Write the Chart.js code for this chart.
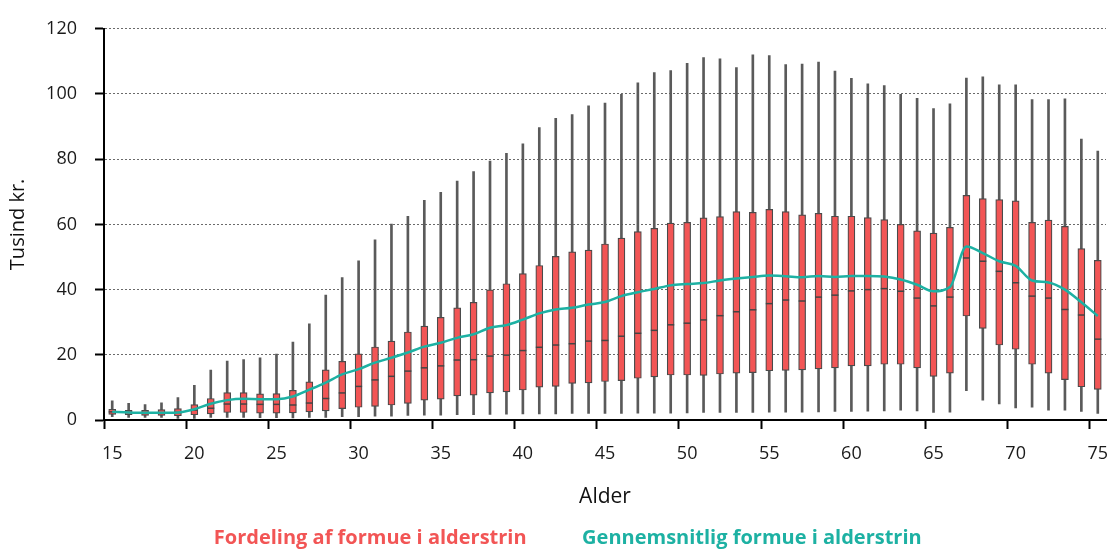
<!DOCTYPE html>
<html>
<head>
<meta charset="utf-8">
<script src="https://cdn.jsdelivr.net/npm/chart.js@4.4.1/dist/chart.umd.min.js"></script>
<style>
  html, body { margin: 0; padding: 0; background: #ffffff; }
  #wrap { width: 1110px; height: 549px; position: relative; }
</style>
</head>
<body>
<div id="wrap"><canvas id="c"></canvas></div>
<script>
// Ages (categories)
const ages = [15,16,17,18,19,20,21,22,23,24,25,26,27,28,29,30,31,32,33,34,35,36,37,38,39,40,
  41,42,43,44,45,46,47,48,49,50,51,52,53,54,55,56,57,58,59,60,61,62,63,64,65,66,67,68,69,70,
  71,72,73,74,75];

// Whisker maximum (tusind kr.)
const whiskerMax = [5.9,5.1,4.7,5.3,6.9,10.6,15.3,18.1,18.5,19.1,20.2,23.9,29.5,38.3,43.7,48.8,55.3,60.1,62.5,67.4,
  69.8,73.3,76.2,79.4,81.8,84.7,89.7,92.5,93.7,96.4,97.2,99.9,103.4,106.6,107.2,109.4,111.2,110.8,108.1,112.0,
  111.8,109.0,109.2,109.8,107.0,104.8,103.1,102.6,99.9,98.7,95.5,97.0,104.9,105.3,102.8,102.8,98.3,98.3,98.5,86.2,82.5];

// Upper quartile
const q3 = [3.3,2.95,2.95,3.2,3.5,4.7,6.6,8.4,8.4,8.0,8.1,9.1,11.7,15.4,18.0,20.3,22.4,24.2,27.0,28.8,
  31.5,34.4,36.1,39.9,41.8,44.9,47.4,50.2,51.6,52.1,54.0,55.8,57.8,58.8,60.4,60.6,62.0,62.4,63.9,63.7,
  64.6,63.9,62.9,63.4,62.5,62.5,62.1,61.5,60.0,58.0,57.3,59.1,68.9,67.9,67.6,67.2,60.6,61.3,59.4,52.6,49.0];

// Median
const medians = [2.5,2.3,2.1,2.2,2.3,3.05,3.6,4.9,4.9,4.8,4.8,4.6,5.2,6.6,8.3,10.3,12.3,13.4,15.0,16.0,
  16.6,18.4,18.5,19.6,19.9,21.3,22.3,23.0,23.4,24.2,24.4,25.7,26.6,27.5,29.2,29.7,30.7,32.0,33.2,33.8,
  35.7,36.8,36.5,37.7,38.3,39.6,40.0,40.3,39.5,37.4,35.0,37.7,49.7,48.7,45.6,42.1,38.0,37.4,33.9,32.2,24.8];

// Lower quartile
const q1 = [1.7,1.6,1.4,1.4,1.3,1.6,1.9,2.3,2.3,2.1,2.1,2.2,2.5,2.8,3.5,3.9,4.2,4.6,5.1,6.1,
  6.4,7.4,7.6,8.3,8.6,9.2,10.1,10.3,11.2,11.4,11.8,12.1,12.8,13.2,13.8,13.8,13.7,14.1,14.4,14.5,
  15.1,15.2,15.4,15.7,16.0,16.6,16.6,17.1,17.1,16.0,13.4,14.4,31.9,28.1,23.0,21.7,17.1,14.4,12.4,10.2,9.4];

// Whisker minimum
const whiskerMin = [1.0,0.8,0.8,0.8,0.5,0.5,0.8,0.8,0.8,0.7,0.7,0.6,0.8,0.8,1.0,1.0,1.2,1.2,1.4,1.5,
  1.5,1.6,1.6,1.7,1.8,1.9,1.9,1.9,2.0,2.0,2.0,2.0,2.1,2.1,2.1,2.2,2.3,2.3,2.3,2.3,
  2.4,2.4,2.4,2.5,2.6,2.6,2.7,2.8,3.0,2.8,2.3,2.4,9.0,6.1,4.9,3.7,3.9,3.0,3.0,2.6,2.0];

// Average wealth per age
const meanValues = [2.5,2.3,2.2,2.2,2.3,3.3,5.0,6.1,6.5,6.4,6.4,7.2,9.3,11.5,14.0,15.6,17.6,19.1,20.7,22.5,
  23.7,25.2,26.3,28.3,29.1,30.8,32.7,33.9,34.4,35.4,36.2,38.0,39.2,40.2,41.3,41.7,42.0,42.8,43.4,43.9,
  44.3,44.1,43.8,44.2,43.9,44.2,44.2,44.0,43.1,41.5,39.5,40.8,53.2,51.2,48.7,47.3,42.8,42.2,40.0,36.1,31.9];

const yTicks = [0,20,40,60,80,100,120];
const xTickEvery = 5;

const labelBox = 'Fordeling af formue i alderstrin';
const labelMean = 'Gennemsnitlig formue i alderstrin';

const RED = '#F25555';
const TEAL = '#1DB1A3';

const medianPlugin = {
  id: 'medianLines',
  afterLayout(chart) {
    // nudge the centred legend a little to the left, as in the reference
    if (chart.legend) { chart.legend.left -= 5; chart.legend.right -= 5; }
  },
  afterDatasetDraw(chart, args) {
    if (args.index !== 1) return;
    const ctx = chart.ctx;
    const y = chart.scales.y;
    const meta = chart.getDatasetMeta(1);
    ctx.save();
    ctx.strokeStyle = '#444444';
    ctx.lineWidth = 1.5;
    meta.data.forEach((el, i) => {
      const py = y.getPixelForValue(medians[i]);
      ctx.beginPath();
      ctx.moveTo(el.x - el.width / 2, py);
      ctx.lineTo(el.x + el.width / 2, py);
      ctx.stroke();
    });
    ctx.restore();
  }
};

new Chart(document.getElementById('c'), {
  data: {
    labels: ages.map(String),
    datasets: [
      {
        type: 'bar',
        label: 'whiskers',
        data: ages.map((a, i) => [whiskerMin[i], whiskerMax[i]]),
        backgroundColor: '#5a5a5a',
        borderWidth: 0,
        barThickness: 2,
        grouped: false,
        order: 3
      },
      {
        type: 'bar',
        label: labelBox,
        data: ages.map((a, i) => [q1[i], q3[i]]),
        backgroundColor: RED,
        borderColor: '#4a4a4a',
        borderWidth: 1.2,
        borderSkipped: false,
        barThickness: 7,
        grouped: false,
        order: 2
      },
      {
        type: 'line',
        label: labelMean,
        data: meanValues,
        borderColor: TEAL,
        backgroundColor: TEAL,
        borderWidth: 2.5,
        pointRadius: 0,
        cubicInterpolationMode: 'monotone',
        order: 1
      }
    ]
  },
  options: {
    responsive: true,
    maintainAspectRatio: false,
    animation: false,
    layout: { padding: { top: 28, right: 4, bottom: -9, left: 0 } },
    plugins: {
      tooltip: { enabled: false },
      legend: {
        position: 'bottom',
        labels: {
          font: { family: 'Open Sans', size: 20, weight: 'bold' },
          boxWidth: 29.5,
          boxHeight: 0,
          padding: 16,
          generateLabels: () => [
            { text: labelBox, fontColor: RED, fillStyle: 'rgba(0,0,0,0)', strokeStyle: 'rgba(0,0,0,0)', lineWidth: 0, datasetIndex: 1, hidden: false },
            { text: labelMean, fontColor: TEAL, fillStyle: 'rgba(0,0,0,0)', strokeStyle: 'rgba(0,0,0,0)', lineWidth: 0, datasetIndex: 2, hidden: false }
          ]
        }
      }
    },
    scales: {
      x: {
        type: 'category',
        offset: true,
        afterFit: (s) => { s.height = 92; s.paddingLeft = 0; s.paddingRight = 0; },
        grid: {
          offset: true,
          drawOnChartArea: false,
          tickLength: 9,
          tickWidth: 2,
          tickColor: (ctx) => {
            if (ctx.index === undefined || ctx.tick === undefined) return 'rgba(0,0,0,0)';
            return ages[ctx.index] % xTickEvery === 0 || ctx.index === 0 ? '#000' : 'rgba(0,0,0,0)';
          }
        },
        border: { color: '#000', width: 2 },
        ticks: {
          autoSkip: false,
          maxRotation: 0,
          padding: 14,
          color: '#1a1a1a',
          font: { family: 'Open Sans', size: 18 },
          callback: function (value, index) { return ages[index] % xTickEvery === 0 ? String(ages[index]) : ''; }
        },
        title: {
          display: true,
          text: 'Alder',
          color: '#111',
          font: { family: 'Open Sans', size: 21 },
          padding: { top: 0, bottom: 2 }
        }
      },
      y: {
        min: yTicks[0],
        max: yTicks[yTicks.length - 1],
        afterFit: (s) => { s.width = 104; },
        afterBuildTicks: (s) => { s.ticks = yTicks.map(v => ({ value: v })); },
        grid: {
          color: '#6a6a6a',
          lineWidth: 1,
          tickLength: 9,
          tickWidth: 2,
          tickColor: '#000',
          tickBorderDash: []
        },
        border: { color: '#000', width: 2, dash: [2, 2] },
        ticks: {
          padding: 18,
          color: '#1a1a1a',
          font: { family: 'Open Sans', size: 18 }
        },
        title: {
          display: true,
          text: 'Tusind kr.',
          color: '#111',
          font: { family: 'Open Sans', size: 20 },
          padding: { top: 6, bottom: 0 }
        }
      }
    }
  },
  plugins: [medianPlugin]
});
</script>
</body>
</html>
